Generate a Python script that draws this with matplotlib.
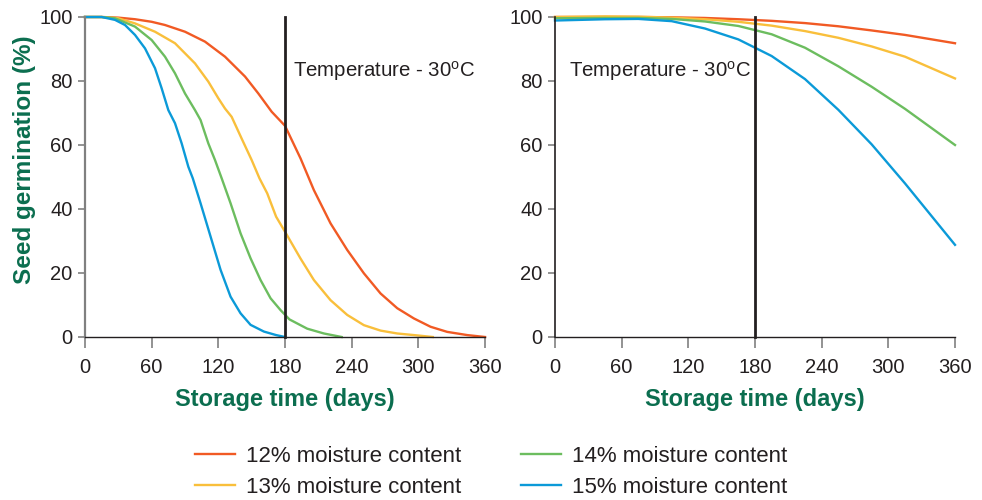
import matplotlib
matplotlib.use('Agg')
import matplotlib.pyplot as plt

plt.rcParams['font.family'] = ['Liberation Sans', 'DejaVu Sans']
plt.rcParams['mathtext.fontset'] = 'custom'
plt.rcParams['mathtext.rm'] = 'Liberation Sans'

# left panel
t12_a = [0, 15, 30, 45, 60, 72, 90, 108, 126, 144, 156, 168, 180, 194, 206, 221, 236,
         251, 266, 281, 296, 311, 326, 344, 360]
g12_a = [100, 100, 99.8, 99.3, 98.5, 97.5, 95.4, 92.3, 87.6, 81.4, 76.1, 70.4, 66, 55.8,
         45.9, 35.5, 27.2, 19.9, 13.6, 9, 5.8, 3.2, 1.6, 0.6, 0]
t13_a = [0, 15, 30, 45, 63, 81, 99, 111, 120, 126, 132, 141, 150, 157, 164, 172, 180,
         194, 206, 221, 236, 251, 266, 281, 296, 313]
g13_a = [100, 100, 99.6, 98, 95.4, 91.8, 85.5, 79.8, 74.6, 71.4, 68.8, 62, 55.3, 49.6,
         44.9, 37.6, 32.9, 24.5, 17.8, 11.5, 6.9, 3.7, 2, 1.1, 0.6, 0]
t14_a = [0, 15, 27, 45, 60, 72, 81, 90, 99, 104, 111, 117, 123, 131, 140, 149, 158,
         167, 176, 184, 200, 215, 231]
g14_a = [100, 100, 99.6, 97, 92.8, 87.6, 82.4, 76.1, 70.9, 67.8, 60.5, 55.3, 49.6, 41.8,
         32.4, 24.6, 17.8, 12.1, 8.4, 5.5, 2.6, 1.1, 0]
t15_a = [0, 15, 27, 36, 45, 54, 63, 69, 75, 81, 87, 93, 97, 104, 113, 122, 131, 140,
         149, 161, 172, 180]
g15_a = [100, 100, 99.1, 97.5, 94.4, 90.2, 84, 77.7, 70.9, 66.8, 60.5, 53.2, 49.6, 41.8,
         31.4, 21, 12.6, 7.4, 3.8, 1.7, 0.6, 0]

# right panel
t_b = [0, 45, 75, 105, 135, 165, 195, 225, 255, 285, 315, 360]
g12_b = [100, 100, 100, 99.9, 99.7, 99.3, 98.8, 98.1, 97.1, 95.8, 94.4, 91.8]
g13_b = [100, 100.2, 100.1, 99.8, 99.3, 98.5, 97.3, 95.6, 93.5, 90.8, 87.6, 80.8]
g14_b = [99.6, 99.7, 99.7, 99.4, 98.6, 97.2, 94.6, 90.4, 84.6, 78.2, 71.3, 60]
g15_b = [98.9, 99.3, 99.4, 98.7, 96.4, 93, 87.8, 80.6, 71, 60.2, 48, 28.8]

labels = ['12% moisture content', '13% moisture content',
          '14% moisture content', '15% moisture content']
colors = ['#f15a24', '#f9bf3b', '#6cbd5f', '#0b9ad8']
green = '#0b6e4f'
ticks_x = [0, 60, 120, 180, 240, 300, 360]
ticks_y = [0, 20, 40, 60, 80, 100]

fig = plt.figure(figsize=(9.82, 5), dpi=100)
ax1 = fig.add_axes([85 / 982, 163 / 500, 400 / 982, 320 / 500])
ax2 = fig.add_axes([555 / 982, 163 / 500, 400 / 982, 320 / 500])

left_data = [(t12_a, g12_a), (t13_a, g13_a), (t14_a, g14_a), (t15_a, g15_a)]
right_data = [(t_b, g12_b), (t_b, g13_b), (t_b, g14_b), (t_b, g15_b)]

handles = []
for (t, g), c, lab in zip(left_data, colors, labels):
    h, = ax1.plot(t, g, color=c, lw=1.7, label=lab, clip_on=False, solid_joinstyle='round')
    handles.append(h)
for (t, g), c in zip(right_data, colors):
    ax2.plot(t, g, color=c, lw=1.7, clip_on=False, solid_joinstyle='round')

for ax in (ax1, ax2):
    ax.plot([180, 180], [0, 100], color='#231f20', lw=2, clip_on=False)
    ax.set_xlim(0, 360)
    ax.set_ylim(0, 100)
    ax.set_xticks(ticks_x)
    ax.set_yticks(ticks_y)
    ax.spines['top'].set_visible(False)
    ax.spines['right'].set_visible(False)
    ax.spines['bottom'].set_color('#231f20')
    ax.spines['bottom'].set_linewidth(1)
    ax.tick_params(axis='both', labelsize=14.5, colors='#231f20', width=1.2)
    ax.tick_params(axis='x', color='#808080', length=8, pad=7)
    ax.tick_params(axis='y', color='#808080', length=5, pad=4)
    ax.set_xlabel('Storage time (days)', fontsize=17, fontweight='bold', color=green, labelpad=8)

ax1.spines['left'].set_color('#808080')
ax1.spines['left'].set_linewidth(1.6)
ax2.spines['left'].set_color('#231f20')
ax2.spines['left'].set_linewidth(1.2)

ax1.set_ylabel('Seed germination (%)', fontsize=17.5, fontweight='bold', color=green)
ax1.yaxis.set_label_coords(-0.1225, 0.553)

ax1.text(187, 83, r'Temperature - 30$^{\rm o}$C', fontsize=14.7, color='#231f20', va='center')
ax2.text(13, 83, r'Temperature - 30$^{\rm o}$C', fontsize=14.7, color='#231f20', va='center')

fig.legend(handles=handles, loc='center', bbox_to_anchor=(0.5, 0.056), ncol=2, frameon=False,
           fontsize=16, handlelength=1.8, handletextpad=0.5, columnspacing=2.7, labelspacing=0.45,
           labelcolor='#231f20')

fig.savefig('out.png', dpi=100)
